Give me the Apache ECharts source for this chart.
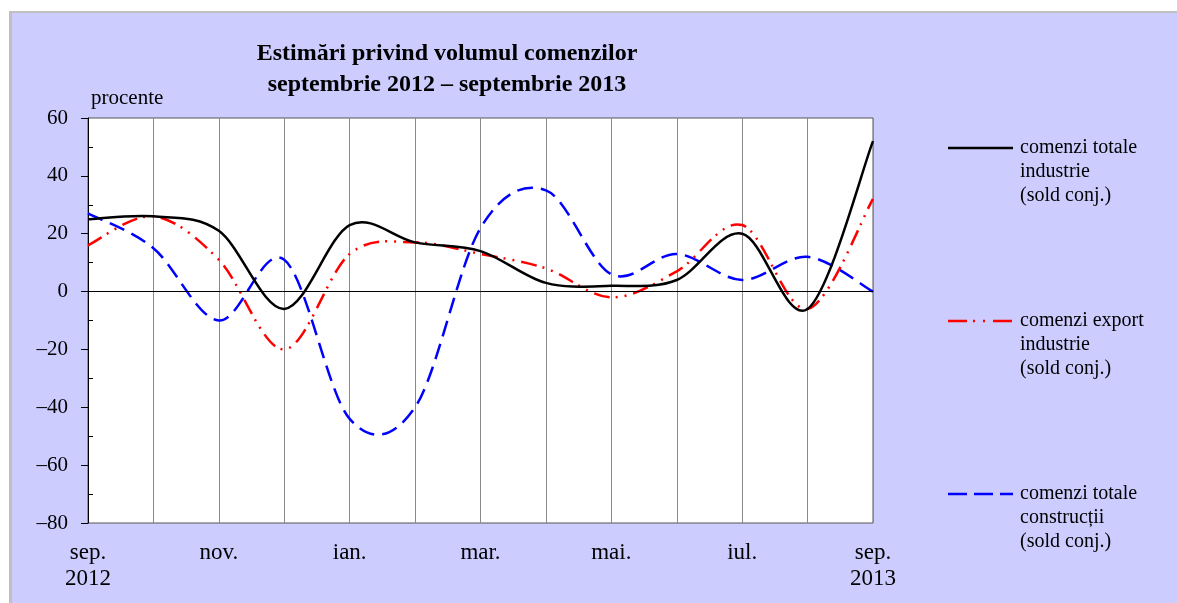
<!DOCTYPE html>
<html>
<head>
<meta charset="utf-8">
<script src="https://cdn.jsdelivr.net/npm/echarts@6/dist/echarts.min.js"></script>
<style>
  body { margin: 0; background: #fff; }
  #frame {
    position: absolute; left: 9px; top: 11px; width: 1168px; height: 592px;
    background: #ccccff; border-left: 3px solid #c0c0c0; border-top: 2px solid #c0c0c0;
  }
  #chart { position: absolute; left: 0; top: 0; width: 1177px; height: 603px; }
</style>
</head>
<body>
<div id="frame"></div>
<div id="chart"></div>
<script>
const months = ['sep.\n2012', 'oct.', 'nov.', 'dec.', 'ian.', 'feb.', 'mar.', 'apr.', 'mai.', 'iun.', 'iul.', 'aug.', 'sep.\n2013']
const totalIndustrie = [25, 26, 21, -6, 23, 17, 14, 3, 2, 4, 20, -6, 52]
const exportIndustrie = [16, 26, 11, -20, 13, 17, 13, 8, -2, 7, 23, -6, 32]
const totalConstructii = [27, 15, -10, 11, -44, -40, 22, 35, 6, 13, 4, 12, 0]

const serif = '"Liberation Serif", "Times New Roman", serif'

// legend is drawn by hand: line sample + 3-line text block
function legendItem (y, color, dash, text) {
  return [
    {
      type: 'line',
      shape: { x1: 948, y1: y, x2: 1013, y2: y },
      style: { stroke: color, lineWidth: 2.5, lineDash: dash }
    },
    {
      type: 'text',
      x: 1020,
      y: y - 12,
      style: { text: text, font: '20px ' + serif, fill: '#000', lineHeight: 24, verticalAlign: 'top' }
    }
  ]
}

// spreadsheet-style smoothed line (Catmull-Rom, 1/6 tangents), points from the axes
function smoothLine (name, values, color, dash, z) {
  return {
    name: name,
    type: 'custom',
    z: z,
    data: values.map((v, i) => [i, v]),
    encode: { x: 0, y: 1 },
    renderItem: function (params, api) {
      if (params.dataIndex !== 0) return
      const p = values.map((v, i) => api.coord([i, v]))
      const n = p.length
      let d = 'M' + p[0][0] + ' ' + p[0][1]
      for (let i = 0; i < n - 1; i++) {
        const p0 = p[Math.max(i - 1, 0)]
        const p1 = p[i]
        const p2 = p[i + 1]
        const p3 = p[Math.min(i + 2, n - 1)]
        const c1 = [p1[0] + (p2[0] - p0[0]) / 6, p1[1] + (p2[1] - p0[1]) / 6]
        const c2 = [p2[0] - (p3[0] - p1[0]) / 6, p2[1] - (p3[1] - p1[1]) / 6]
        d += 'C' + c1[0] + ' ' + c1[1] + ' ' + c2[0] + ' ' + c2[1] + ' ' + p2[0] + ' ' + p2[1]
      }
      return {
        type: 'path',
        shape: { pathData: d },
        style: { fill: 'none', stroke: color, lineWidth: 2.5, lineDash: dash }
      }
    }
  }
}

const zeroLine = {
  silent: true, symbol: 'none', label: { show: false },
  lineStyle: { color: '#000', width: 1, type: 'solid' },
  data: [{ yAxis: 0 }]
}

const chart = echarts.init(document.getElementById('chart'))
chart.setOption({
  animation: false,
  backgroundColor: 'transparent',
  grid: {
    left: 88, top: 118, right: 304, bottom: 80,
    show: true, backgroundColor: '#fff', borderColor: '#555', borderWidth: 1
  },
  graphic: [
    {
      type: 'text',
      x: 447,
      y: 69,
      style: {
        text: 'Estimări privind volumul comenzilor\nseptembrie 2012 – septembrie 2013',
        font: 'bold 24px ' + serif, fill: '#000', lineHeight: 31,
        align: 'center', verticalAlign: 'middle'
      }
    },
    {
      type: 'text',
      x: 91,
      y: 98,
      style: { text: 'procente', font: '21px ' + serif, fill: '#000', verticalAlign: 'middle' }
    },
    ...legendItem(148, '#000', null, 'comenzi totale\nindustrie\n(sold conj.)'),
    ...legendItem(321, '#ff0000', [19, 6, 2, 8, 2, 8], 'comenzi export\nindustrie\n(sold conj.)'),
    ...legendItem(494, '#0000ff', [19, 7], 'comenzi totale\nconstrucții\n(sold conj.)')
  ],
  xAxis: {
    type: 'category',
    data: months,
    boundaryGap: false,
    axisLine: { lineStyle: { color: '#555', width: 1 } },
    axisTick: { show: false },
    axisLabel: {
      interval: 1, margin: 17, color: '#000',
      fontFamily: serif, fontSize: 23, lineHeight: 26
    },
    splitLine: { show: true, interval: 0, lineStyle: { color: '#8a8a8a', width: 1 } }
  },
  yAxis: [
    {
      type: 'value',
      min: -80, max: 60, interval: 20,
      axisLine: { show: true, lineStyle: { color: '#000', width: 1 } },
      axisTick: { show: true, length: 7, lineStyle: { color: '#000' } },
      axisLabel: {
        margin: 20, color: '#000', fontFamily: serif, fontSize: 21,
        formatter: v => String(v).replace('-', '\u2013')
      },
      splitLine: { show: false }
    },
    {
      // minor ticks on the inside of the axis
      type: 'value',
      position: 'left',
      min: -80, max: 60, interval: 20,
      axisLine: { show: false },
      axisTick: { show: false, inside: true },
      minorTick: { show: true, splitNumber: 2, length: 5, lineStyle: { color: '#000' } },
      axisLabel: { show: false },
      splitLine: { show: false }
    }
  ],
  series: [
    Object.assign(smoothLine('comenzi totale construcții', totalConstructii, '#0000ff', [16, 8], 2), { markLine: zeroLine }),
    smoothLine('comenzi export industrie', exportIndustrie, '#ff0000', [16, 6, 2, 7, 2, 7], 3),
    smoothLine('comenzi totale industrie', totalIndustrie, '#000', null, 4)
  ]
})
</script>
</body>
</html>
